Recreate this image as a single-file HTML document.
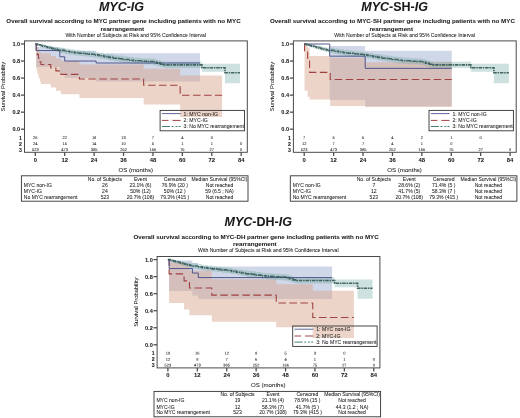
<!DOCTYPE html>
<html><head><meta charset="utf-8"><style>
html,body{margin:0;padding:0;background:#fff;width:520px;height:418px;overflow:hidden}
svg{display:block;filter:blur(0.3px)}
text{font-family:"Liberation Sans",sans-serif;fill:#1a1a1a;stroke:#1a1a1a;stroke-width:0.05px}
</style></head><body>
<svg width="520" height="418" viewBox="0 0 520 418">
<rect width="520" height="418" fill="#fff"/>

<g transform="translate(0,0)">
<text x="121.50" y="10.6" font-size="12.5" font-weight="bold" text-anchor="middle"><tspan font-style="italic">MYC</tspan><tspan font-style="italic">-IG</tspan></text>
<text x="123.50" y="23.20" font-size="6.22" text-anchor="middle" font-weight="bold" font-style="normal" >Overall survival according to MYC partner gene including patients with no MYC</text>
<text x="122.30" y="30.50" font-size="6.22" text-anchor="middle" font-weight="bold" font-style="normal" >rearrangement</text>
<text x="135.70" y="36.60" font-size="5.12" text-anchor="middle" font-weight="normal" font-style="normal" >With Number of Subjects at Risk and 95% Confidence Interval</text>
<path d="M36.21,46.98L59.81,46.98L59.81,48.26L64.71,48.26L64.71,50.82L96.08,50.82L96.08,53.37L200.01,53.37L200.01,81.49L96.08,81.49L96.08,78.08L64.71,78.08L64.71,73.82L59.81,73.82L59.81,67.00L36.21,67.00Z" fill="#627ab2" fill-opacity="0.3"/>
<path d="M36.21,44.85L37.26,44.85L37.26,47.41L38.49,47.41L38.49,49.96L39.71,49.96L39.71,52.52L40.94,52.52L40.94,53.37L50.74,53.37L50.74,55.93L55.89,55.93L55.89,58.48L60.79,58.48L60.79,61.04L79.42,61.04L79.42,64.45L143.63,64.45L143.63,68.71L180.15,68.71L180.15,75.52L222.07,75.52L222.07,117.10L180.15,117.10L180.15,104.49L143.63,104.49L143.63,98.10L79.42,98.10L79.42,94.27L60.79,94.27L60.79,90.86L55.89,90.86L55.89,87.45L50.74,87.45L50.74,84.04L40.94,84.04L40.94,81.49L39.71,81.49L39.71,78.08L38.49,78.08L38.49,73.82L37.26,73.82L37.26,69.56L36.21,69.56Z" fill="#d8a68e" fill-opacity="0.485"/>
<path d="M37.75,44.00L40.20,44.00L40.20,44.00L42.65,44.00L42.65,44.43L45.10,44.43L45.10,45.02L47.55,45.02L47.55,45.70L50.01,45.70L50.01,45.87L52.46,45.87L52.46,46.47L54.91,46.47L54.91,47.07L57.36,47.07L57.36,47.66L59.81,47.66L59.81,47.66L64.71,47.66L64.71,48.52L69.61,48.52L69.61,49.28L74.52,49.28L74.52,49.96L79.42,49.96L79.42,50.56L84.32,50.56L84.32,51.07L89.22,51.07L89.22,51.58L94.12,51.58L94.12,52.18L99.03,52.18L99.03,53.03L103.93,53.03L103.93,53.88L108.83,53.88L108.83,54.31L113.73,54.31L113.73,55.16L118.63,55.16L118.63,55.76L123.54,55.76L123.54,56.44L128.44,56.44L128.44,57.12L133.34,57.12L133.34,57.72L140.69,57.72L140.69,58.14L148.05,58.14L148.05,58.48L152.95,58.48L152.95,59.00L156.62,59.00L156.62,60.10L160.30,60.10L160.30,61.21L163.98,61.21L163.98,61.81L201.97,61.81L201.97,63.85L225.01,63.85L225.01,63.85L239.96,63.85L239.96,83.19L225.01,83.19L225.01,71.69L201.97,71.69L201.97,67.94L163.98,67.94L163.98,67.34L160.30,67.34L160.30,66.24L156.62,66.24L156.62,65.13L152.95,65.13L152.95,64.62L148.05,64.62L148.05,64.28L140.69,64.28L140.69,63.85L133.34,63.85L133.34,63.26L128.44,63.26L128.44,62.57L123.54,62.57L123.54,61.89L118.63,61.89L118.63,61.30L113.73,61.30L113.73,60.44L108.83,60.44L108.83,59.34L103.93,59.34L103.93,58.48L99.03,58.48L99.03,57.63L94.12,57.63L94.12,57.04L89.22,57.04L89.22,56.52L84.32,56.52L84.32,56.01L79.42,56.01L79.42,55.42L74.52,55.42L74.52,54.74L69.61,54.74L69.61,53.97L64.71,53.97L64.71,53.12L59.81,53.12L59.81,52.09L57.36,52.09L57.36,51.50L54.91,51.50L54.91,50.90L52.46,50.90L52.46,50.30L50.01,50.30L50.01,49.11L47.55,49.11L47.55,48.43L45.10,48.43L45.10,47.83L42.65,47.83L42.65,47.24L40.20,47.24L40.20,45.87L37.75,45.87Z" fill="#66a59c" fill-opacity="0.33"/>
<path d="M35.30,44.00H36.21V51.07H37.26V54.65H38.49V58.23H39.71V61.72H40.94V64.45H50.74V68.03H55.89V70.92H60.79V74.42H79.42V78.93H143.63V85.24H180.15V95.29H222.07" fill="none" stroke="#a04242" stroke-width="1.1" stroke-dasharray="7.5,3.5"/>
<path d="M35.30,44.00H36.21V50.56H59.81V56.78H64.71V61.04H96.08V63.00H200.01" fill="none" stroke="#4b5088" stroke-width="0.95"/>
<path d="M35.30,44.00H37.75V44.85H40.20V45.53H42.65V46.13H45.10V46.73H47.55V47.41H50.01V48.09H52.46V48.69H54.91V49.28H57.36V49.88H59.81V50.39H64.71V51.24H69.61V52.01H74.52V52.69H79.42V53.29H84.32V53.80H89.22V54.31H94.12V54.91H99.03V55.76H103.93V56.61H108.83V57.38H113.73V58.23H118.63V58.82H123.54V59.51H128.44V60.19H133.34V60.78H140.69V61.21H148.05V61.55H152.95V62.06H156.62V63.17H160.30V64.28H163.98V64.87H201.97V67.69H225.01V72.71H239.96" fill="none" stroke="#345754" stroke-width="1.6" stroke-dasharray="3.5,0.8,1.5,0.8" opacity="0.9"/>
<rect x="24.5" y="40.9" width="222.8" height="111.4" fill="none" stroke="#4a4a4a" stroke-width="1"/>
<line x1="20.9" y1="129.20" x2="24.5" y2="129.20" stroke="#4a4a4a" stroke-width="1.25"/>
<text x="20.20" y="131.20" font-size="5.6" text-anchor="end" font-weight="bold" font-style="normal" fill="#2a2a2a" >0.0</text>
<line x1="20.9" y1="112.16" x2="24.5" y2="112.16" stroke="#4a4a4a" stroke-width="1.25"/>
<text x="20.20" y="114.16" font-size="5.6" text-anchor="end" font-weight="bold" font-style="normal" fill="#2a2a2a" >0.2</text>
<line x1="20.9" y1="95.12" x2="24.5" y2="95.12" stroke="#4a4a4a" stroke-width="1.25"/>
<text x="20.20" y="97.12" font-size="5.6" text-anchor="end" font-weight="bold" font-style="normal" fill="#2a2a2a" >0.4</text>
<line x1="20.9" y1="78.08" x2="24.5" y2="78.08" stroke="#4a4a4a" stroke-width="1.25"/>
<text x="20.20" y="80.08" font-size="5.6" text-anchor="end" font-weight="bold" font-style="normal" fill="#2a2a2a" >0.6</text>
<line x1="20.9" y1="61.04" x2="24.5" y2="61.04" stroke="#4a4a4a" stroke-width="1.25"/>
<text x="20.20" y="63.04" font-size="5.6" text-anchor="end" font-weight="bold" font-style="normal" fill="#2a2a2a" >0.8</text>
<line x1="20.9" y1="44.00" x2="24.5" y2="44.00" stroke="#4a4a4a" stroke-width="1.25"/>
<text x="20.20" y="46.00" font-size="5.6" text-anchor="end" font-weight="bold" font-style="normal" fill="#2a2a2a" >1.0</text>
<line x1="35.30" y1="152.3" x2="35.30" y2="155.9" stroke="#4a4a4a" stroke-width="1.25"/>
<text x="35.30" y="161.80" font-size="5.9" text-anchor="middle" font-weight="bold" font-style="normal" fill="#2a2a2a" >0</text>
<line x1="64.71" y1="152.3" x2="64.71" y2="155.9" stroke="#4a4a4a" stroke-width="1.25"/>
<text x="64.71" y="161.80" font-size="5.9" text-anchor="middle" font-weight="bold" font-style="normal" fill="#2a2a2a" >12</text>
<line x1="94.12" y1="152.3" x2="94.12" y2="155.9" stroke="#4a4a4a" stroke-width="1.25"/>
<text x="94.12" y="161.80" font-size="5.9" text-anchor="middle" font-weight="bold" font-style="normal" fill="#2a2a2a" >24</text>
<line x1="123.54" y1="152.3" x2="123.54" y2="155.9" stroke="#4a4a4a" stroke-width="1.25"/>
<text x="123.54" y="161.80" font-size="5.9" text-anchor="middle" font-weight="bold" font-style="normal" fill="#2a2a2a" >36</text>
<line x1="152.95" y1="152.3" x2="152.95" y2="155.9" stroke="#4a4a4a" stroke-width="1.25"/>
<text x="152.95" y="161.80" font-size="5.9" text-anchor="middle" font-weight="bold" font-style="normal" fill="#2a2a2a" >48</text>
<line x1="182.36" y1="152.3" x2="182.36" y2="155.9" stroke="#4a4a4a" stroke-width="1.25"/>
<text x="182.36" y="161.80" font-size="5.9" text-anchor="middle" font-weight="bold" font-style="normal" fill="#2a2a2a" >60</text>
<line x1="211.77" y1="152.3" x2="211.77" y2="155.9" stroke="#4a4a4a" stroke-width="1.25"/>
<text x="211.77" y="161.80" font-size="5.9" text-anchor="middle" font-weight="bold" font-style="normal" fill="#2a2a2a" >72</text>
<line x1="241.18" y1="152.3" x2="241.18" y2="155.9" stroke="#4a4a4a" stroke-width="1.25"/>
<text x="241.18" y="161.80" font-size="5.9" text-anchor="middle" font-weight="bold" font-style="normal" fill="#2a2a2a" >84</text>
<text x="135.70" y="171.60" font-size="6.1" text-anchor="middle" font-weight="normal" font-style="normal" >OS (months)</text>
<text transform="translate(4.9,86.6) rotate(-90)" x="0" y="0" font-size="5.8" text-anchor="middle">Survival Probability</text>
<text x="22.00" y="139.50" font-size="5.2" text-anchor="end" font-weight="bold" font-style="normal" >1</text>
<text x="35.30" y="139.00" font-size="4.0" text-anchor="middle" font-weight="normal" font-style="normal" fill="#333" rotate="0.2">26</text>
<text x="64.71" y="139.00" font-size="4.0" text-anchor="middle" font-weight="normal" font-style="normal" fill="#333" rotate="0.2">22</text>
<text x="94.12" y="139.00" font-size="4.0" text-anchor="middle" font-weight="normal" font-style="normal" fill="#333" rotate="0.2">18</text>
<text x="123.54" y="139.00" font-size="4.0" text-anchor="middle" font-weight="normal" font-style="normal" fill="#333" rotate="0.2">13</text>
<text x="152.95" y="139.00" font-size="4.0" text-anchor="middle" font-weight="normal" font-style="normal" fill="#333" rotate="0.2">7</text>
<text x="182.36" y="139.00" font-size="4.0" text-anchor="middle" font-weight="normal" font-style="normal" fill="#333" rotate="0.2">4</text>
<text x="211.77" y="139.00" font-size="4.0" text-anchor="middle" font-weight="normal" font-style="normal" fill="#333" rotate="0.2">0</text>
<text x="22.00" y="145.60" font-size="5.2" text-anchor="end" font-weight="bold" font-style="normal" >2</text>
<text x="35.30" y="145.10" font-size="4.0" text-anchor="middle" font-weight="normal" font-style="normal" fill="#333" rotate="0.2">24</text>
<text x="64.71" y="145.10" font-size="4.0" text-anchor="middle" font-weight="normal" font-style="normal" fill="#333" rotate="0.2">15</text>
<text x="94.12" y="145.10" font-size="4.0" text-anchor="middle" font-weight="normal" font-style="normal" fill="#333" rotate="0.2">14</text>
<text x="123.54" y="145.10" font-size="4.0" text-anchor="middle" font-weight="normal" font-style="normal" fill="#333" rotate="0.2">10</text>
<text x="152.95" y="145.10" font-size="4.0" text-anchor="middle" font-weight="normal" font-style="normal" fill="#333" rotate="0.2">5</text>
<text x="182.36" y="145.10" font-size="4.0" text-anchor="middle" font-weight="normal" font-style="normal" fill="#333" rotate="0.2">1</text>
<text x="211.77" y="145.10" font-size="4.0" text-anchor="middle" font-weight="normal" font-style="normal" fill="#333" rotate="0.2">1</text>
<text x="241.18" y="145.10" font-size="4.0" text-anchor="middle" font-weight="normal" font-style="normal" fill="#333" rotate="0.2">0</text>
<text x="22.00" y="151.50" font-size="5.2" text-anchor="end" font-weight="bold" font-style="normal" >3</text>
<text x="35.30" y="151.00" font-size="4.0" text-anchor="middle" font-weight="normal" font-style="normal" fill="#333" rotate="0.2">523</text>
<text x="64.71" y="151.00" font-size="4.0" text-anchor="middle" font-weight="normal" font-style="normal" fill="#333" rotate="0.2">473</text>
<text x="94.12" y="151.00" font-size="4.0" text-anchor="middle" font-weight="normal" font-style="normal" fill="#333" rotate="0.2">385</text>
<text x="123.54" y="151.00" font-size="4.0" text-anchor="middle" font-weight="normal" font-style="normal" fill="#333" rotate="0.2">252</text>
<text x="152.95" y="151.00" font-size="4.0" text-anchor="middle" font-weight="normal" font-style="normal" fill="#333" rotate="0.2">166</text>
<text x="182.36" y="151.00" font-size="4.0" text-anchor="middle" font-weight="normal" font-style="normal" fill="#333" rotate="0.2">75</text>
<text x="211.77" y="151.00" font-size="4.0" text-anchor="middle" font-weight="normal" font-style="normal" fill="#333" rotate="0.2">27</text>
<text x="241.18" y="151.00" font-size="4.0" text-anchor="middle" font-weight="normal" font-style="normal" fill="#333" rotate="0.2">0</text>
<rect x="160.1" y="110.4" width="84.4" height="20.4" fill="none" stroke="#333" stroke-width="0.9"/>
<line x1="161.9" y1="113.6" x2="180.8" y2="113.6" stroke="#4f5590" stroke-width="0.9"/>
<path d="M161.9,120.4H168.5M172.5,120.4H180.6" stroke="#a04242" stroke-width="1" fill="none"/>
<path d="M161.9,126.5H170M171.6,126.5H173.6M175.5,126.5H177.5M178.6,126.5H180.6" stroke="#4a8077" stroke-width="1" fill="none"/>
<text x="183.60" y="115.80" font-size="5.15" text-anchor="start" font-weight="normal" font-style="normal" >1: MYC non-IG</text>
<text x="183.60" y="122.10" font-size="5.15" text-anchor="start" font-weight="normal" font-style="normal" >2: MYC-IG</text>
<text x="183.60" y="128.30" font-size="5.15" text-anchor="start" font-weight="normal" font-style="normal" >3: No MYC rearrangement</text>
<rect x="21.4" y="175.8" width="226.6" height="25.4" fill="none" stroke="#333" stroke-width="0.9"/>
<text x="104.90" y="180.70" font-size="5.05" text-anchor="middle" font-weight="normal" font-style="normal" >No. of Subjects</text>
<text x="140.40" y="180.70" font-size="5.05" text-anchor="middle" font-weight="normal" font-style="normal" >Event</text>
<text x="174.80" y="180.70" font-size="5.05" text-anchor="middle" font-weight="normal" font-style="normal" >Censored</text>
<text x="219.50" y="180.70" font-size="5.05" text-anchor="middle" font-weight="normal" font-style="normal" >Median Survival (95%CI)</text>
<text x="23.80" y="186.90" font-size="5.05" text-anchor="start" font-weight="normal" font-style="normal" >MYC non-IG</text>
<text x="104.90" y="186.90" font-size="5.05" text-anchor="middle" font-weight="normal" font-style="normal" >26</text>
<text x="140.40" y="186.90" font-size="5.05" text-anchor="middle" font-weight="normal" font-style="normal" >23.1% (6)</text>
<text x="174.80" y="186.90" font-size="5.05" text-anchor="middle" font-weight="normal" font-style="normal" >76.9% (20 )</text>
<text x="219.50" y="186.90" font-size="5.05" text-anchor="middle" font-weight="normal" font-style="normal" >Not reached</text>
<text x="23.80" y="193.00" font-size="5.05" text-anchor="start" font-weight="normal" font-style="normal" >MYC-IG</text>
<text x="104.90" y="193.00" font-size="5.05" text-anchor="middle" font-weight="normal" font-style="normal" >24</text>
<text x="140.40" y="193.00" font-size="5.05" text-anchor="middle" font-weight="normal" font-style="normal" >50% (12)</text>
<text x="174.80" y="193.00" font-size="5.05" text-anchor="middle" font-weight="normal" font-style="normal" >50% (12 )</text>
<text x="219.50" y="193.00" font-size="5.05" text-anchor="middle" font-weight="normal" font-style="normal" >59 (6.5 ; NA)</text>
<text x="23.80" y="198.90" font-size="5.05" text-anchor="start" font-weight="normal" font-style="normal" >No MYC rearrangement</text>
<text x="104.90" y="198.90" font-size="5.05" text-anchor="middle" font-weight="normal" font-style="normal" >523</text>
<text x="140.40" y="198.90" font-size="5.05" text-anchor="middle" font-weight="normal" font-style="normal" >20.7% (108)</text>
<text x="174.80" y="198.90" font-size="5.05" text-anchor="middle" font-weight="normal" font-style="normal" >79.3% (415 )</text>
<text x="219.50" y="198.90" font-size="5.05" text-anchor="middle" font-weight="normal" font-style="normal" >Not reached</text>
</g>
<g transform="translate(268.9,0)">
<text x="125.70" y="10.6" font-size="12.5" font-weight="bold" text-anchor="middle"><tspan font-style="italic">MYC</tspan><tspan font-style="normal">-SH-</tspan><tspan font-style="italic">IG</tspan></text>
<text x="123.50" y="23.20" font-size="6.22" text-anchor="middle" font-weight="bold" font-style="normal" >Overall survival according to MYC-SH partner gene including patients with no MYC</text>
<text x="122.30" y="30.50" font-size="6.22" text-anchor="middle" font-weight="bold" font-style="normal" >rearrangement</text>
<text x="135.70" y="36.60" font-size="5.12" text-anchor="middle" font-weight="normal" font-style="normal" >With Number of Subjects at Risk and 95% Confidence Interval</text>
<path d="M60.79,45.96L96.33,45.96L96.33,50.82L182.85,50.82L182.85,106.37L96.33,106.37L96.33,99.98L60.79,99.98Z" fill="#627ab2" fill-opacity="0.3"/>
<path d="M35.67,44.85L38.73,44.85L38.73,48.26L40.69,48.26L40.69,55.93L61.28,55.93L61.28,57.63L96.33,57.63L96.33,62.32L182.85,62.32L182.85,106.88L96.33,106.88L96.33,106.03L61.28,106.03L61.28,99.38L40.69,99.38L40.69,96.82L38.73,96.82L38.73,90.86L35.67,90.86Z" fill="#d8a68e" fill-opacity="0.485"/>
<path d="M37.75,44.00L40.20,44.00L40.20,44.00L42.65,44.00L42.65,44.43L45.10,44.43L45.10,45.02L47.55,45.02L47.55,45.70L50.01,45.70L50.01,45.87L52.46,45.87L52.46,46.47L54.91,46.47L54.91,47.07L57.36,47.07L57.36,47.66L59.81,47.66L59.81,47.66L64.71,47.66L64.71,48.52L69.61,48.52L69.61,49.28L74.52,49.28L74.52,49.96L79.42,49.96L79.42,50.56L84.32,50.56L84.32,51.07L89.22,51.07L89.22,51.58L94.12,51.58L94.12,52.18L99.03,52.18L99.03,53.03L103.93,53.03L103.93,53.88L108.83,53.88L108.83,54.31L113.73,54.31L113.73,55.16L118.63,55.16L118.63,55.76L123.54,55.76L123.54,56.44L128.44,56.44L128.44,57.12L133.34,57.12L133.34,57.72L140.69,57.72L140.69,58.14L148.05,58.14L148.05,58.48L152.95,58.48L152.95,59.00L156.62,59.00L156.62,60.10L160.30,60.10L160.30,61.21L163.98,61.21L163.98,61.81L201.97,61.81L201.97,63.85L225.01,63.85L225.01,63.85L239.96,63.85L239.96,83.19L225.01,83.19L225.01,71.69L201.97,71.69L201.97,67.94L163.98,67.94L163.98,67.34L160.30,67.34L160.30,66.24L156.62,66.24L156.62,65.13L152.95,65.13L152.95,64.62L148.05,64.62L148.05,64.28L140.69,64.28L140.69,63.85L133.34,63.85L133.34,63.26L128.44,63.26L128.44,62.57L123.54,62.57L123.54,61.89L118.63,61.89L118.63,61.30L113.73,61.30L113.73,60.44L108.83,60.44L108.83,59.34L103.93,59.34L103.93,58.48L99.03,58.48L99.03,57.63L94.12,57.63L94.12,57.04L89.22,57.04L89.22,56.52L84.32,56.52L84.32,56.01L79.42,56.01L79.42,55.42L74.52,55.42L74.52,54.74L69.61,54.74L69.61,53.97L64.71,53.97L64.71,53.12L59.81,53.12L59.81,52.09L57.36,52.09L57.36,51.50L54.91,51.50L54.91,50.90L52.46,50.90L52.46,50.30L50.01,50.30L50.01,49.11L47.55,49.11L47.55,48.43L45.10,48.43L45.10,47.83L42.65,47.83L42.65,47.24L40.20,47.24L40.20,45.87L37.75,45.87Z" fill="#66a59c" fill-opacity="0.33"/>
<path d="M35.30,44.00H35.67V51.07H38.73V58.23H40.69V72.37H61.28V79.53H182.85" fill="none" stroke="#a04242" stroke-width="1.1" stroke-dasharray="7.5,3.5"/>
<path d="M35.30,44.00H60.79V56.18H96.33V68.37H182.85" fill="none" stroke="#4b5088" stroke-width="0.95"/>
<path d="M35.30,44.00H37.75V44.85H40.20V45.53H42.65V46.13H45.10V46.73H47.55V47.41H50.01V48.09H52.46V48.69H54.91V49.28H57.36V49.88H59.81V50.39H64.71V51.24H69.61V52.01H74.52V52.69H79.42V53.29H84.32V53.80H89.22V54.31H94.12V54.91H99.03V55.76H103.93V56.61H108.83V57.38H113.73V58.23H118.63V58.82H123.54V59.51H128.44V60.19H133.34V60.78H140.69V61.21H148.05V61.55H152.95V62.06H156.62V63.17H160.30V64.28H163.98V64.87H201.97V67.69H225.01V72.71H239.96" fill="none" stroke="#345754" stroke-width="1.6" stroke-dasharray="3.5,0.8,1.5,0.8" opacity="0.9"/>
<rect x="24.5" y="40.9" width="222.8" height="111.4" fill="none" stroke="#4a4a4a" stroke-width="1"/>
<line x1="20.9" y1="129.20" x2="24.5" y2="129.20" stroke="#4a4a4a" stroke-width="1.25"/>
<text x="20.20" y="131.20" font-size="5.6" text-anchor="end" font-weight="bold" font-style="normal" fill="#2a2a2a" >0.0</text>
<line x1="20.9" y1="112.16" x2="24.5" y2="112.16" stroke="#4a4a4a" stroke-width="1.25"/>
<text x="20.20" y="114.16" font-size="5.6" text-anchor="end" font-weight="bold" font-style="normal" fill="#2a2a2a" >0.2</text>
<line x1="20.9" y1="95.12" x2="24.5" y2="95.12" stroke="#4a4a4a" stroke-width="1.25"/>
<text x="20.20" y="97.12" font-size="5.6" text-anchor="end" font-weight="bold" font-style="normal" fill="#2a2a2a" >0.4</text>
<line x1="20.9" y1="78.08" x2="24.5" y2="78.08" stroke="#4a4a4a" stroke-width="1.25"/>
<text x="20.20" y="80.08" font-size="5.6" text-anchor="end" font-weight="bold" font-style="normal" fill="#2a2a2a" >0.6</text>
<line x1="20.9" y1="61.04" x2="24.5" y2="61.04" stroke="#4a4a4a" stroke-width="1.25"/>
<text x="20.20" y="63.04" font-size="5.6" text-anchor="end" font-weight="bold" font-style="normal" fill="#2a2a2a" >0.8</text>
<line x1="20.9" y1="44.00" x2="24.5" y2="44.00" stroke="#4a4a4a" stroke-width="1.25"/>
<text x="20.20" y="46.00" font-size="5.6" text-anchor="end" font-weight="bold" font-style="normal" fill="#2a2a2a" >1.0</text>
<line x1="35.30" y1="152.3" x2="35.30" y2="155.9" stroke="#4a4a4a" stroke-width="1.25"/>
<text x="35.30" y="161.80" font-size="5.9" text-anchor="middle" font-weight="bold" font-style="normal" fill="#2a2a2a" >0</text>
<line x1="64.71" y1="152.3" x2="64.71" y2="155.9" stroke="#4a4a4a" stroke-width="1.25"/>
<text x="64.71" y="161.80" font-size="5.9" text-anchor="middle" font-weight="bold" font-style="normal" fill="#2a2a2a" >12</text>
<line x1="94.12" y1="152.3" x2="94.12" y2="155.9" stroke="#4a4a4a" stroke-width="1.25"/>
<text x="94.12" y="161.80" font-size="5.9" text-anchor="middle" font-weight="bold" font-style="normal" fill="#2a2a2a" >24</text>
<line x1="123.54" y1="152.3" x2="123.54" y2="155.9" stroke="#4a4a4a" stroke-width="1.25"/>
<text x="123.54" y="161.80" font-size="5.9" text-anchor="middle" font-weight="bold" font-style="normal" fill="#2a2a2a" >36</text>
<line x1="152.95" y1="152.3" x2="152.95" y2="155.9" stroke="#4a4a4a" stroke-width="1.25"/>
<text x="152.95" y="161.80" font-size="5.9" text-anchor="middle" font-weight="bold" font-style="normal" fill="#2a2a2a" >48</text>
<line x1="182.36" y1="152.3" x2="182.36" y2="155.9" stroke="#4a4a4a" stroke-width="1.25"/>
<text x="182.36" y="161.80" font-size="5.9" text-anchor="middle" font-weight="bold" font-style="normal" fill="#2a2a2a" >60</text>
<line x1="211.77" y1="152.3" x2="211.77" y2="155.9" stroke="#4a4a4a" stroke-width="1.25"/>
<text x="211.77" y="161.80" font-size="5.9" text-anchor="middle" font-weight="bold" font-style="normal" fill="#2a2a2a" >72</text>
<line x1="241.18" y1="152.3" x2="241.18" y2="155.9" stroke="#4a4a4a" stroke-width="1.25"/>
<text x="241.18" y="161.80" font-size="5.9" text-anchor="middle" font-weight="bold" font-style="normal" fill="#2a2a2a" >84</text>
<text x="135.70" y="171.60" font-size="6.1" text-anchor="middle" font-weight="normal" font-style="normal" >OS (months)</text>
<text transform="translate(4.9,86.6) rotate(-90)" x="0" y="0" font-size="5.8" text-anchor="middle">Survival Probability</text>
<text x="22.00" y="139.50" font-size="5.2" text-anchor="end" font-weight="bold" font-style="normal" >1</text>
<text x="35.30" y="139.00" font-size="4.0" text-anchor="middle" font-weight="normal" font-style="normal" fill="#333" rotate="0.2">7</text>
<text x="64.71" y="139.00" font-size="4.0" text-anchor="middle" font-weight="normal" font-style="normal" fill="#333" rotate="0.2">6</text>
<text x="94.12" y="139.00" font-size="4.0" text-anchor="middle" font-weight="normal" font-style="normal" fill="#333" rotate="0.2">6</text>
<text x="123.54" y="139.00" font-size="4.0" text-anchor="middle" font-weight="normal" font-style="normal" fill="#333" rotate="0.2">4</text>
<text x="152.95" y="139.00" font-size="4.0" text-anchor="middle" font-weight="normal" font-style="normal" fill="#333" rotate="0.2">2</text>
<text x="182.36" y="139.00" font-size="4.0" text-anchor="middle" font-weight="normal" font-style="normal" fill="#333" rotate="0.2">1</text>
<text x="211.77" y="139.00" font-size="4.0" text-anchor="middle" font-weight="normal" font-style="normal" fill="#333" rotate="0.2">0</text>
<text x="22.00" y="145.60" font-size="5.2" text-anchor="end" font-weight="bold" font-style="normal" >2</text>
<text x="35.30" y="145.10" font-size="4.0" text-anchor="middle" font-weight="normal" font-style="normal" fill="#333" rotate="0.2">12</text>
<text x="64.71" y="145.10" font-size="4.0" text-anchor="middle" font-weight="normal" font-style="normal" fill="#333" rotate="0.2">7</text>
<text x="94.12" y="145.10" font-size="4.0" text-anchor="middle" font-weight="normal" font-style="normal" fill="#333" rotate="0.2">7</text>
<text x="123.54" y="145.10" font-size="4.0" text-anchor="middle" font-weight="normal" font-style="normal" fill="#333" rotate="0.2">4</text>
<text x="152.95" y="145.10" font-size="4.0" text-anchor="middle" font-weight="normal" font-style="normal" fill="#333" rotate="0.2">1</text>
<text x="182.36" y="145.10" font-size="4.0" text-anchor="middle" font-weight="normal" font-style="normal" fill="#333" rotate="0.2">0</text>
<text x="22.00" y="151.50" font-size="5.2" text-anchor="end" font-weight="bold" font-style="normal" >3</text>
<text x="35.30" y="151.00" font-size="4.0" text-anchor="middle" font-weight="normal" font-style="normal" fill="#333" rotate="0.2">523</text>
<text x="64.71" y="151.00" font-size="4.0" text-anchor="middle" font-weight="normal" font-style="normal" fill="#333" rotate="0.2">473</text>
<text x="94.12" y="151.00" font-size="4.0" text-anchor="middle" font-weight="normal" font-style="normal" fill="#333" rotate="0.2">385</text>
<text x="123.54" y="151.00" font-size="4.0" text-anchor="middle" font-weight="normal" font-style="normal" fill="#333" rotate="0.2">252</text>
<text x="152.95" y="151.00" font-size="4.0" text-anchor="middle" font-weight="normal" font-style="normal" fill="#333" rotate="0.2">166</text>
<text x="182.36" y="151.00" font-size="4.0" text-anchor="middle" font-weight="normal" font-style="normal" fill="#333" rotate="0.2">75</text>
<text x="211.77" y="151.00" font-size="4.0" text-anchor="middle" font-weight="normal" font-style="normal" fill="#333" rotate="0.2">27</text>
<text x="241.18" y="151.00" font-size="4.0" text-anchor="middle" font-weight="normal" font-style="normal" fill="#333" rotate="0.2">0</text>
<rect x="160.1" y="110.4" width="84.4" height="20.4" fill="none" stroke="#333" stroke-width="0.9"/>
<line x1="161.9" y1="113.6" x2="180.8" y2="113.6" stroke="#4f5590" stroke-width="0.9"/>
<path d="M161.9,120.4H168.5M172.5,120.4H180.6" stroke="#a04242" stroke-width="1" fill="none"/>
<path d="M161.9,126.5H170M171.6,126.5H173.6M175.5,126.5H177.5M178.6,126.5H180.6" stroke="#4a8077" stroke-width="1" fill="none"/>
<text x="183.60" y="115.80" font-size="5.15" text-anchor="start" font-weight="normal" font-style="normal" >1: MYC non-IG</text>
<text x="183.60" y="122.10" font-size="5.15" text-anchor="start" font-weight="normal" font-style="normal" >2: MYC-IG</text>
<text x="183.60" y="128.30" font-size="5.15" text-anchor="start" font-weight="normal" font-style="normal" >3: No MYC rearrangement</text>
<rect x="21.4" y="175.8" width="226.6" height="25.4" fill="none" stroke="#333" stroke-width="0.9"/>
<text x="104.90" y="180.70" font-size="5.05" text-anchor="middle" font-weight="normal" font-style="normal" >No. of Subjects</text>
<text x="140.40" y="180.70" font-size="5.05" text-anchor="middle" font-weight="normal" font-style="normal" >Event</text>
<text x="174.80" y="180.70" font-size="5.05" text-anchor="middle" font-weight="normal" font-style="normal" >Censored</text>
<text x="219.50" y="180.70" font-size="5.05" text-anchor="middle" font-weight="normal" font-style="normal" >Median Survival (95%CI)</text>
<text x="23.80" y="186.90" font-size="5.05" text-anchor="start" font-weight="normal" font-style="normal" >MYC non-IG</text>
<text x="104.90" y="186.90" font-size="5.05" text-anchor="middle" font-weight="normal" font-style="normal" >7</text>
<text x="140.40" y="186.90" font-size="5.05" text-anchor="middle" font-weight="normal" font-style="normal" >28.6% (2)</text>
<text x="174.80" y="186.90" font-size="5.05" text-anchor="middle" font-weight="normal" font-style="normal" >71.4% (5 )</text>
<text x="219.50" y="186.90" font-size="5.05" text-anchor="middle" font-weight="normal" font-style="normal" >Not reached</text>
<text x="23.80" y="193.00" font-size="5.05" text-anchor="start" font-weight="normal" font-style="normal" >MYC-IG</text>
<text x="104.90" y="193.00" font-size="5.05" text-anchor="middle" font-weight="normal" font-style="normal" >12</text>
<text x="140.40" y="193.00" font-size="5.05" text-anchor="middle" font-weight="normal" font-style="normal" >41.7% (5)</text>
<text x="174.80" y="193.00" font-size="5.05" text-anchor="middle" font-weight="normal" font-style="normal" >58.3% (7 )</text>
<text x="219.50" y="193.00" font-size="5.05" text-anchor="middle" font-weight="normal" font-style="normal" >Not reached</text>
<text x="23.80" y="198.90" font-size="5.05" text-anchor="start" font-weight="normal" font-style="normal" >No MYC rearrangement</text>
<text x="104.90" y="198.90" font-size="5.05" text-anchor="middle" font-weight="normal" font-style="normal" >523</text>
<text x="140.40" y="198.90" font-size="5.05" text-anchor="middle" font-weight="normal" font-style="normal" >20.7% (108)</text>
<text x="174.80" y="198.90" font-size="5.05" text-anchor="middle" font-weight="normal" font-style="normal" >79.3% (415 )</text>
<text x="219.50" y="198.90" font-size="5.05" text-anchor="middle" font-weight="normal" font-style="normal" >Not reached</text>
</g>
<g transform="translate(132.6,215.6)">
<text x="125.60" y="10.6" font-size="12.5" font-weight="bold" text-anchor="middle"><tspan font-style="italic">MYC</tspan><tspan font-style="normal">-DH-</tspan><tspan font-style="italic">IG</tspan></text>
<text x="123.50" y="23.20" font-size="6.22" text-anchor="middle" font-weight="bold" font-style="normal" >Overall survival according to MYC-DH partner gene including patients with no MYC</text>
<text x="122.30" y="30.50" font-size="6.22" text-anchor="middle" font-weight="bold" font-style="normal" >rearrangement</text>
<text x="135.70" y="36.60" font-size="5.12" text-anchor="middle" font-weight="normal" font-style="normal" >With Number of Subjects at Risk and 95% Confidence Interval</text>
<path d="M36.53,44.85L59.81,44.85L59.81,47.41L65.69,47.41L65.69,50.99L199.52,50.99L199.52,83.45L65.69,83.45L65.69,79.78L59.81,79.78L59.81,75.52L36.53,75.52Z" fill="#627ab2" fill-opacity="0.3"/>
<path d="M36.53,46.56L51.48,46.56L51.48,49.96L56.87,49.96L56.87,55.08L79.17,55.08L79.17,63.60L143.63,63.60L143.63,68.71L180.15,68.71L180.15,75.10L221.33,75.10L221.33,122.38L180.15,122.38L180.15,111.73L143.63,111.73L143.63,106.11L79.17,106.11L79.17,99.64L56.87,99.64L56.87,93.84L51.48,93.84L51.48,87.45L36.53,87.45Z" fill="#d8a68e" fill-opacity="0.485"/>
<path d="M37.75,44.00L40.20,44.00L40.20,44.00L42.65,44.00L42.65,44.43L45.10,44.43L45.10,45.02L47.55,45.02L47.55,45.70L50.01,45.70L50.01,45.87L52.46,45.87L52.46,46.47L54.91,46.47L54.91,47.07L57.36,47.07L57.36,47.66L59.81,47.66L59.81,47.66L64.71,47.66L64.71,48.52L69.61,48.52L69.61,49.28L74.52,49.28L74.52,49.96L79.42,49.96L79.42,50.56L84.32,50.56L84.32,51.07L89.22,51.07L89.22,51.58L94.12,51.58L94.12,52.18L99.03,52.18L99.03,53.03L103.93,53.03L103.93,53.88L108.83,53.88L108.83,54.31L113.73,54.31L113.73,55.16L118.63,55.16L118.63,55.76L123.54,55.76L123.54,56.44L128.44,56.44L128.44,57.12L133.34,57.12L133.34,57.72L140.69,57.72L140.69,58.14L148.05,58.14L148.05,58.48L152.95,58.48L152.95,59.00L156.62,59.00L156.62,60.10L160.30,60.10L160.30,61.21L163.98,61.21L163.98,61.81L201.97,61.81L201.97,63.85L225.01,63.85L225.01,63.85L239.96,63.85L239.96,83.19L225.01,83.19L225.01,71.69L201.97,71.69L201.97,67.94L163.98,67.94L163.98,67.34L160.30,67.34L160.30,66.24L156.62,66.24L156.62,65.13L152.95,65.13L152.95,64.62L148.05,64.62L148.05,64.28L140.69,64.28L140.69,63.85L133.34,63.85L133.34,63.26L128.44,63.26L128.44,62.57L123.54,62.57L123.54,61.89L118.63,61.89L118.63,61.30L113.73,61.30L113.73,60.44L108.83,60.44L108.83,59.34L103.93,59.34L103.93,58.48L99.03,58.48L99.03,57.63L94.12,57.63L94.12,57.04L89.22,57.04L89.22,56.52L84.32,56.52L84.32,56.01L79.42,56.01L79.42,55.42L74.52,55.42L74.52,54.74L69.61,54.74L69.61,53.97L64.71,53.97L64.71,53.12L59.81,53.12L59.81,52.09L57.36,52.09L57.36,51.50L54.91,51.50L54.91,50.90L52.46,50.90L52.46,50.30L50.01,50.30L50.01,49.11L47.55,49.11L47.55,48.43L45.10,48.43L45.10,47.83L42.65,47.83L42.65,47.24L40.20,47.24L40.20,45.87L37.75,45.87Z" fill="#66a59c" fill-opacity="0.33"/>
<path d="M35.30,44.00H36.53V58.23H51.48V65.30H56.87V72.37H79.17V79.53H143.63V87.45H180.15V101.94H221.33" fill="none" stroke="#a04242" stroke-width="1.1" stroke-dasharray="7.5,3.5"/>
<path d="M35.30,44.00H36.53V52.95H59.81V57.46H65.69V61.98H199.52" fill="none" stroke="#4b5088" stroke-width="0.95"/>
<path d="M35.30,44.00H37.75V44.85H40.20V45.53H42.65V46.13H45.10V46.73H47.55V47.41H50.01V48.09H52.46V48.69H54.91V49.28H57.36V49.88H59.81V50.39H64.71V51.24H69.61V52.01H74.52V52.69H79.42V53.29H84.32V53.80H89.22V54.31H94.12V54.91H99.03V55.76H103.93V56.61H108.83V57.38H113.73V58.23H118.63V58.82H123.54V59.51H128.44V60.19H133.34V60.78H140.69V61.21H148.05V61.55H152.95V62.06H156.62V63.17H160.30V64.28H163.98V64.87H201.97V67.69H225.01V72.71H239.96" fill="none" stroke="#345754" stroke-width="1.6" stroke-dasharray="3.5,0.8,1.5,0.8" opacity="0.9"/>
<rect x="24.5" y="40.9" width="222.8" height="111.4" fill="none" stroke="#4a4a4a" stroke-width="1"/>
<line x1="20.9" y1="129.20" x2="24.5" y2="129.20" stroke="#4a4a4a" stroke-width="1.25"/>
<text x="20.20" y="131.20" font-size="5.6" text-anchor="end" font-weight="bold" font-style="normal" fill="#2a2a2a" >0.0</text>
<line x1="20.9" y1="112.16" x2="24.5" y2="112.16" stroke="#4a4a4a" stroke-width="1.25"/>
<text x="20.20" y="114.16" font-size="5.6" text-anchor="end" font-weight="bold" font-style="normal" fill="#2a2a2a" >0.2</text>
<line x1="20.9" y1="95.12" x2="24.5" y2="95.12" stroke="#4a4a4a" stroke-width="1.25"/>
<text x="20.20" y="97.12" font-size="5.6" text-anchor="end" font-weight="bold" font-style="normal" fill="#2a2a2a" >0.4</text>
<line x1="20.9" y1="78.08" x2="24.5" y2="78.08" stroke="#4a4a4a" stroke-width="1.25"/>
<text x="20.20" y="80.08" font-size="5.6" text-anchor="end" font-weight="bold" font-style="normal" fill="#2a2a2a" >0.6</text>
<line x1="20.9" y1="61.04" x2="24.5" y2="61.04" stroke="#4a4a4a" stroke-width="1.25"/>
<text x="20.20" y="63.04" font-size="5.6" text-anchor="end" font-weight="bold" font-style="normal" fill="#2a2a2a" >0.8</text>
<line x1="20.9" y1="44.00" x2="24.5" y2="44.00" stroke="#4a4a4a" stroke-width="1.25"/>
<text x="20.20" y="46.00" font-size="5.6" text-anchor="end" font-weight="bold" font-style="normal" fill="#2a2a2a" >1.0</text>
<line x1="35.30" y1="152.3" x2="35.30" y2="155.9" stroke="#4a4a4a" stroke-width="1.25"/>
<text x="35.30" y="161.80" font-size="5.9" text-anchor="middle" font-weight="bold" font-style="normal" fill="#2a2a2a" >0</text>
<line x1="64.71" y1="152.3" x2="64.71" y2="155.9" stroke="#4a4a4a" stroke-width="1.25"/>
<text x="64.71" y="161.80" font-size="5.9" text-anchor="middle" font-weight="bold" font-style="normal" fill="#2a2a2a" >12</text>
<line x1="94.12" y1="152.3" x2="94.12" y2="155.9" stroke="#4a4a4a" stroke-width="1.25"/>
<text x="94.12" y="161.80" font-size="5.9" text-anchor="middle" font-weight="bold" font-style="normal" fill="#2a2a2a" >24</text>
<line x1="123.54" y1="152.3" x2="123.54" y2="155.9" stroke="#4a4a4a" stroke-width="1.25"/>
<text x="123.54" y="161.80" font-size="5.9" text-anchor="middle" font-weight="bold" font-style="normal" fill="#2a2a2a" >36</text>
<line x1="152.95" y1="152.3" x2="152.95" y2="155.9" stroke="#4a4a4a" stroke-width="1.25"/>
<text x="152.95" y="161.80" font-size="5.9" text-anchor="middle" font-weight="bold" font-style="normal" fill="#2a2a2a" >48</text>
<line x1="182.36" y1="152.3" x2="182.36" y2="155.9" stroke="#4a4a4a" stroke-width="1.25"/>
<text x="182.36" y="161.80" font-size="5.9" text-anchor="middle" font-weight="bold" font-style="normal" fill="#2a2a2a" >60</text>
<line x1="211.77" y1="152.3" x2="211.77" y2="155.9" stroke="#4a4a4a" stroke-width="1.25"/>
<text x="211.77" y="161.80" font-size="5.9" text-anchor="middle" font-weight="bold" font-style="normal" fill="#2a2a2a" >72</text>
<line x1="241.18" y1="152.3" x2="241.18" y2="155.9" stroke="#4a4a4a" stroke-width="1.25"/>
<text x="241.18" y="161.80" font-size="5.9" text-anchor="middle" font-weight="bold" font-style="normal" fill="#2a2a2a" >84</text>
<text x="135.70" y="171.60" font-size="6.1" text-anchor="middle" font-weight="normal" font-style="normal" >OS (months)</text>
<text transform="translate(4.9,86.6) rotate(-90)" x="0" y="0" font-size="5.8" text-anchor="middle">Survival Probability</text>
<text x="22.00" y="139.50" font-size="5.2" text-anchor="end" font-weight="bold" font-style="normal" >1</text>
<text x="35.30" y="139.00" font-size="4.0" text-anchor="middle" font-weight="normal" font-style="normal" fill="#333" rotate="0.2">19</text>
<text x="64.71" y="139.00" font-size="4.0" text-anchor="middle" font-weight="normal" font-style="normal" fill="#333" rotate="0.2">16</text>
<text x="94.12" y="139.00" font-size="4.0" text-anchor="middle" font-weight="normal" font-style="normal" fill="#333" rotate="0.2">12</text>
<text x="123.54" y="139.00" font-size="4.0" text-anchor="middle" font-weight="normal" font-style="normal" fill="#333" rotate="0.2">9</text>
<text x="152.95" y="139.00" font-size="4.0" text-anchor="middle" font-weight="normal" font-style="normal" fill="#333" rotate="0.2">5</text>
<text x="182.36" y="139.00" font-size="4.0" text-anchor="middle" font-weight="normal" font-style="normal" fill="#333" rotate="0.2">3</text>
<text x="211.77" y="139.00" font-size="4.0" text-anchor="middle" font-weight="normal" font-style="normal" fill="#333" rotate="0.2">0</text>
<text x="22.00" y="145.60" font-size="5.2" text-anchor="end" font-weight="bold" font-style="normal" >2</text>
<text x="35.30" y="145.10" font-size="4.0" text-anchor="middle" font-weight="normal" font-style="normal" fill="#333" rotate="0.2">12</text>
<text x="64.71" y="145.10" font-size="4.0" text-anchor="middle" font-weight="normal" font-style="normal" fill="#333" rotate="0.2">8</text>
<text x="94.12" y="145.10" font-size="4.0" text-anchor="middle" font-weight="normal" font-style="normal" fill="#333" rotate="0.2">7</text>
<text x="123.54" y="145.10" font-size="4.0" text-anchor="middle" font-weight="normal" font-style="normal" fill="#333" rotate="0.2">6</text>
<text x="152.95" y="145.10" font-size="4.0" text-anchor="middle" font-weight="normal" font-style="normal" fill="#333" rotate="0.2">4</text>
<text x="182.36" y="145.10" font-size="4.0" text-anchor="middle" font-weight="normal" font-style="normal" fill="#333" rotate="0.2">1</text>
<text x="211.77" y="145.10" font-size="4.0" text-anchor="middle" font-weight="normal" font-style="normal" fill="#333" rotate="0.2">1</text>
<text x="241.18" y="145.10" font-size="4.0" text-anchor="middle" font-weight="normal" font-style="normal" fill="#333" rotate="0.2">0</text>
<text x="22.00" y="151.50" font-size="5.2" text-anchor="end" font-weight="bold" font-style="normal" >3</text>
<text x="35.30" y="151.00" font-size="4.0" text-anchor="middle" font-weight="normal" font-style="normal" fill="#333" rotate="0.2">523</text>
<text x="64.71" y="151.00" font-size="4.0" text-anchor="middle" font-weight="normal" font-style="normal" fill="#333" rotate="0.2">473</text>
<text x="94.12" y="151.00" font-size="4.0" text-anchor="middle" font-weight="normal" font-style="normal" fill="#333" rotate="0.2">385</text>
<text x="123.54" y="151.00" font-size="4.0" text-anchor="middle" font-weight="normal" font-style="normal" fill="#333" rotate="0.2">252</text>
<text x="152.95" y="151.00" font-size="4.0" text-anchor="middle" font-weight="normal" font-style="normal" fill="#333" rotate="0.2">166</text>
<text x="182.36" y="151.00" font-size="4.0" text-anchor="middle" font-weight="normal" font-style="normal" fill="#333" rotate="0.2">75</text>
<text x="211.77" y="151.00" font-size="4.0" text-anchor="middle" font-weight="normal" font-style="normal" fill="#333" rotate="0.2">27</text>
<text x="241.18" y="151.00" font-size="4.0" text-anchor="middle" font-weight="normal" font-style="normal" fill="#333" rotate="0.2">0</text>
<rect x="160.1" y="110.4" width="84.4" height="20.4" fill="none" stroke="#333" stroke-width="0.9"/>
<line x1="161.9" y1="113.6" x2="180.8" y2="113.6" stroke="#4f5590" stroke-width="0.9"/>
<path d="M161.9,120.4H168.5M172.5,120.4H180.6" stroke="#a04242" stroke-width="1" fill="none"/>
<path d="M161.9,126.5H170M171.6,126.5H173.6M175.5,126.5H177.5M178.6,126.5H180.6" stroke="#4a8077" stroke-width="1" fill="none"/>
<text x="183.60" y="115.80" font-size="5.15" text-anchor="start" font-weight="normal" font-style="normal" >1: MYC non-IG</text>
<text x="183.60" y="122.10" font-size="5.15" text-anchor="start" font-weight="normal" font-style="normal" >2: MYC-IG</text>
<text x="183.60" y="128.30" font-size="5.15" text-anchor="start" font-weight="normal" font-style="normal" >3: No MYC rearrangement</text>
<rect x="21.4" y="175.8" width="226.6" height="25.4" fill="none" stroke="#333" stroke-width="0.9"/>
<text x="104.90" y="180.70" font-size="5.05" text-anchor="middle" font-weight="normal" font-style="normal" >No. of Subjects</text>
<text x="140.40" y="180.70" font-size="5.05" text-anchor="middle" font-weight="normal" font-style="normal" >Event</text>
<text x="174.80" y="180.70" font-size="5.05" text-anchor="middle" font-weight="normal" font-style="normal" >Censored</text>
<text x="219.50" y="180.70" font-size="5.05" text-anchor="middle" font-weight="normal" font-style="normal" >Median Survival (95%CI)</text>
<text x="23.80" y="186.90" font-size="5.05" text-anchor="start" font-weight="normal" font-style="normal" >MYC non-IG</text>
<text x="104.90" y="186.90" font-size="5.05" text-anchor="middle" font-weight="normal" font-style="normal" >19</text>
<text x="140.40" y="186.90" font-size="5.05" text-anchor="middle" font-weight="normal" font-style="normal" >21.1% (4)</text>
<text x="174.80" y="186.90" font-size="5.05" text-anchor="middle" font-weight="normal" font-style="normal" >78.9% (15 )</text>
<text x="219.50" y="186.90" font-size="5.05" text-anchor="middle" font-weight="normal" font-style="normal" >Not reached</text>
<text x="23.80" y="193.00" font-size="5.05" text-anchor="start" font-weight="normal" font-style="normal" >MYC-IG</text>
<text x="104.90" y="193.00" font-size="5.05" text-anchor="middle" font-weight="normal" font-style="normal" >12</text>
<text x="140.40" y="193.00" font-size="5.05" text-anchor="middle" font-weight="normal" font-style="normal" >58.3% (7)</text>
<text x="174.80" y="193.00" font-size="5.05" text-anchor="middle" font-weight="normal" font-style="normal" >41.7% (5 )</text>
<text x="219.50" y="193.00" font-size="5.05" text-anchor="middle" font-weight="normal" font-style="normal" >44.3 (1.2 ; NA)</text>
<text x="23.80" y="198.90" font-size="5.05" text-anchor="start" font-weight="normal" font-style="normal" >No MYC rearrangement</text>
<text x="104.90" y="198.90" font-size="5.05" text-anchor="middle" font-weight="normal" font-style="normal" >523</text>
<text x="140.40" y="198.90" font-size="5.05" text-anchor="middle" font-weight="normal" font-style="normal" >20.7% (108)</text>
<text x="174.80" y="198.90" font-size="5.05" text-anchor="middle" font-weight="normal" font-style="normal" >79.3% (415 )</text>
<text x="219.50" y="198.90" font-size="5.05" text-anchor="middle" font-weight="normal" font-style="normal" >Not reached</text>
</g>
</svg></body></html>
